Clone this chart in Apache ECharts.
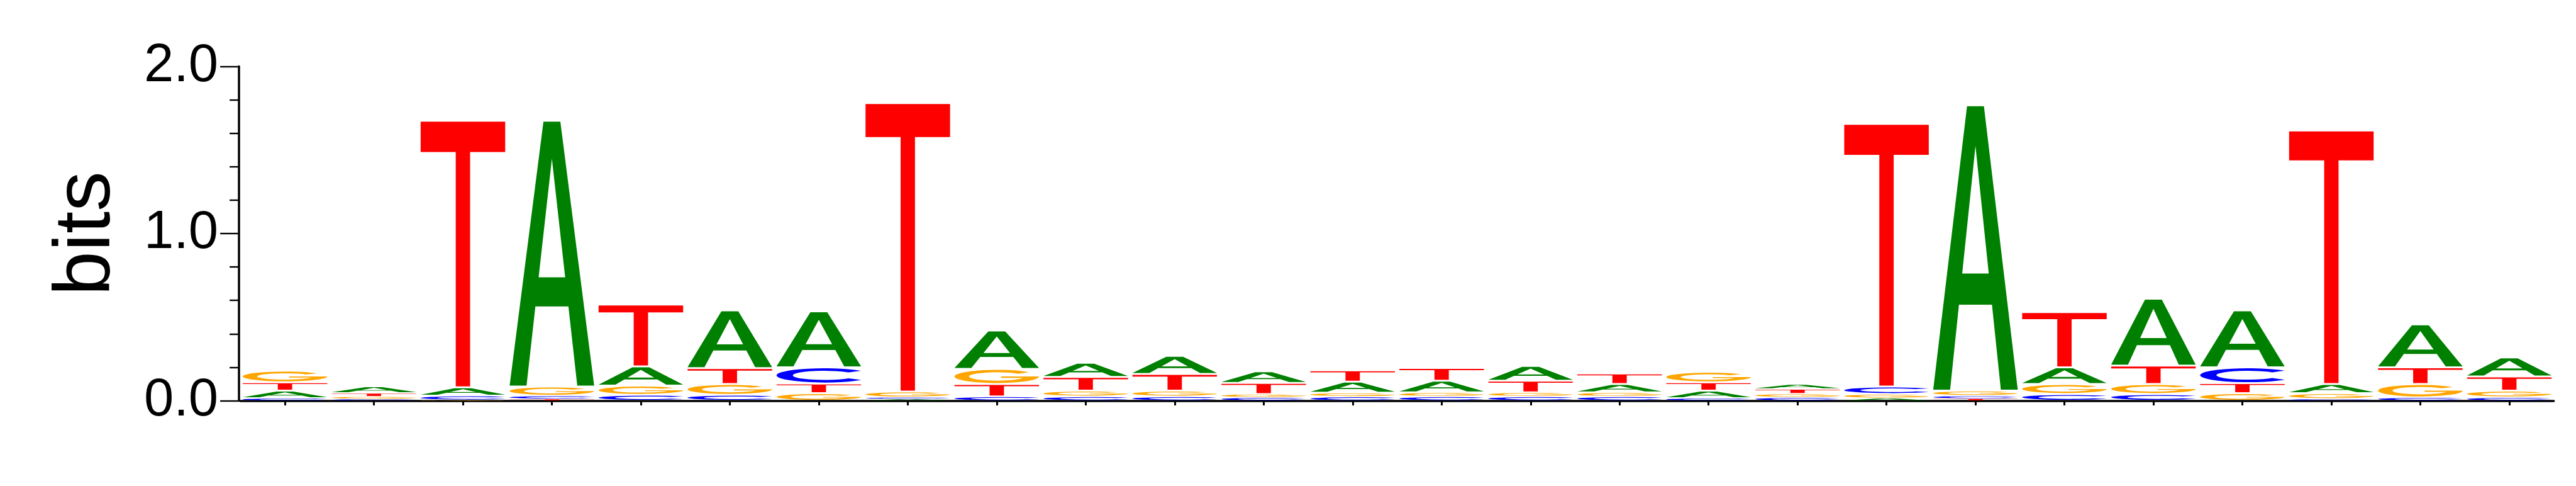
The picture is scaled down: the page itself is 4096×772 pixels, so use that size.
<!DOCTYPE html>
<html><head><meta charset="utf-8">
<script src="https://cdn.jsdelivr.net/npm/echarts@6/dist/echarts.min.js"></script>
<style>html,body{margin:0;padding:0;background:#fff}#c{width:4096px;height:772px}</style>
</head><body><div id="c"></div>
<script>
// Sequence positions (x categories, unlabeled)
const categories = ['1','2','3','4','5','6','7','8','9','10','11','12','13','14','15','16','17','18','19','20','21','22','23','24','25','26'];
// Letter heights (bits) per position
const heightA = [0.045,0.042,0.05,1.59,0.115,0.345,0.335,0.01,0.23,0.085,0.108,0.07,0.066,0.07,0.088,0.05,0.045,0.03,0.015,1.707,0.1,0.4,0.34,0.055,0.257,0.114];
const heightC = [0.015,0.01,0.027,0.02,0.035,0.035,0.097,0.01,0.025,0.025,0.025,0.02,0.024,0.025,0.025,0.025,0.015,0.02,0.045,0.018,0.04,0.04,0.095,0.01,0.02,0.02];
const heightG = [0.07,0.015,0.003,0.055,0.055,0.065,0.045,0.035,0.09,0.035,0.035,0.02,0.024,0.025,0.025,0.025,0.063,0.022,0.025,0.03,0.06,0.06,0.045,0.035,0.08,0.04];
const heightT = [0.05,0.02,1.595,0.01,0.37,0.095,0.058,1.725,0.075,0.082,0.1,0.066,0.068,0.076,0.07,0.063,0.05,0.028,1.571,0.012,0.33,0.11,0.06,1.516,0.1,0.085];
const yTickValues = [0, 1, 2];

const COLORS = {A:'#008000', C:'#0000ff', G:'#ffa500', T:'#ff0000'};
const GLYPHS = {
  A: 'M0,100 L40,0 L60,0 L100,100 L80,100 L69.53,70 L30.47,70 L20,100 Z M50,14 L34.3,59 L65.7,59 Z',
  C: 'M88.3,17.9 A50,50 0 1 0 88.3,82.1 L75.28,70.57 A33,32 0 1 1 75.28,29.43 Z',
  G: 'M88.3,17.9 A50,50 0 1 0 100,50 L55,50 L55,61 L81,61 A33,32 0 1 1 75.28,29.43 Z',
  T: 'M0,0 L100,0 L100,11.5 L58.5,11.5 L58.5,100 L41.5,100 L41.5,11.5 L0,11.5 Z'
};

function renderItem(params, api) {
  const i = api.value(0);
  const letters = [['A',heightA[i]],['C',heightC[i]],['G',heightG[i]],['T',heightT[i]]]
    .sort((a,b)=>a[1]-b[1]);
  const slot = api.size([1,0])[0];
  const w = slot*0.95;
  const cx = api.coord([i,0])[0];
  let base = 0;
  const children = [];
  for (const [L,h] of letters) {
    const yb = api.coord([i, base])[1];
    const yt = api.coord([i, base+h])[1];
    base += h;
    const bh = yb - yt;
    const pad = Math.min(1.5, bh*0.15);
    const gh = bh - 2*pad;
    if (gh <= 0.3) continue;
    children.push({type:'path', shape:{pathData: GLYPHS[L], x: cx-w/2, y: yt+pad, width: w, height: gh, layout:'cover'}, style:{fill: COLORS[L]}});
  }
  return {type:'group', children};
}

const chart = echarts.init(document.getElementById('c'), null, {renderer:'canvas'});
chart.setOption({
  animation:false,
  backgroundColor:'#fff',
  grid:{left:382.4, right:35.3, top:105.4, bottom:135.5, containLabel:false, outerBoundsMode:'none'},
  xAxis:{type:'category', data:categories, boundaryGap:true,
    axisLine:{show:true, lineStyle:{color:'#000', width:3.5}},
    axisTick:{show:true, alignWithLabel:true, length:7.5, lineStyle:{color:'#000', width:3}},
    axisLabel:{show:false}, splitLine:{show:false}},
  yAxis:{type:'value', min:yTickValues[0], max:yTickValues[yTickValues.length-1], interval:1, offset:2.3,
    axisLine:{show:true, lineStyle:{color:'#000', width:3.5}},
    axisTick:{show:true, length:30, lineStyle:{color:'#000', width:2.4}},
    minorTick:{show:true, splitNumber:5, length:15, lineStyle:{color:'#000', width:2.4}},
    axisLabel:{formatter:v=>v.toFixed(1), fontSize:85, fontFamily:'Liberation Sans', color:'#000', margin:33},
    splitLine:{show:false},
    name:'bits', nameLocation:'middle', nameGap:241,
    nameTextStyle:{fontSize:127, fontFamily:'Liberation Sans', color:'#000', verticalAlign:'middle'}},
  series:[{type:'custom', renderItem, clip:false,
    data: categories.map((c,i)=>[i, heightA[i]+heightC[i]+heightG[i]+heightT[i]]),
    encode:{x:0, y:1}}]
});
</script></body></html>
